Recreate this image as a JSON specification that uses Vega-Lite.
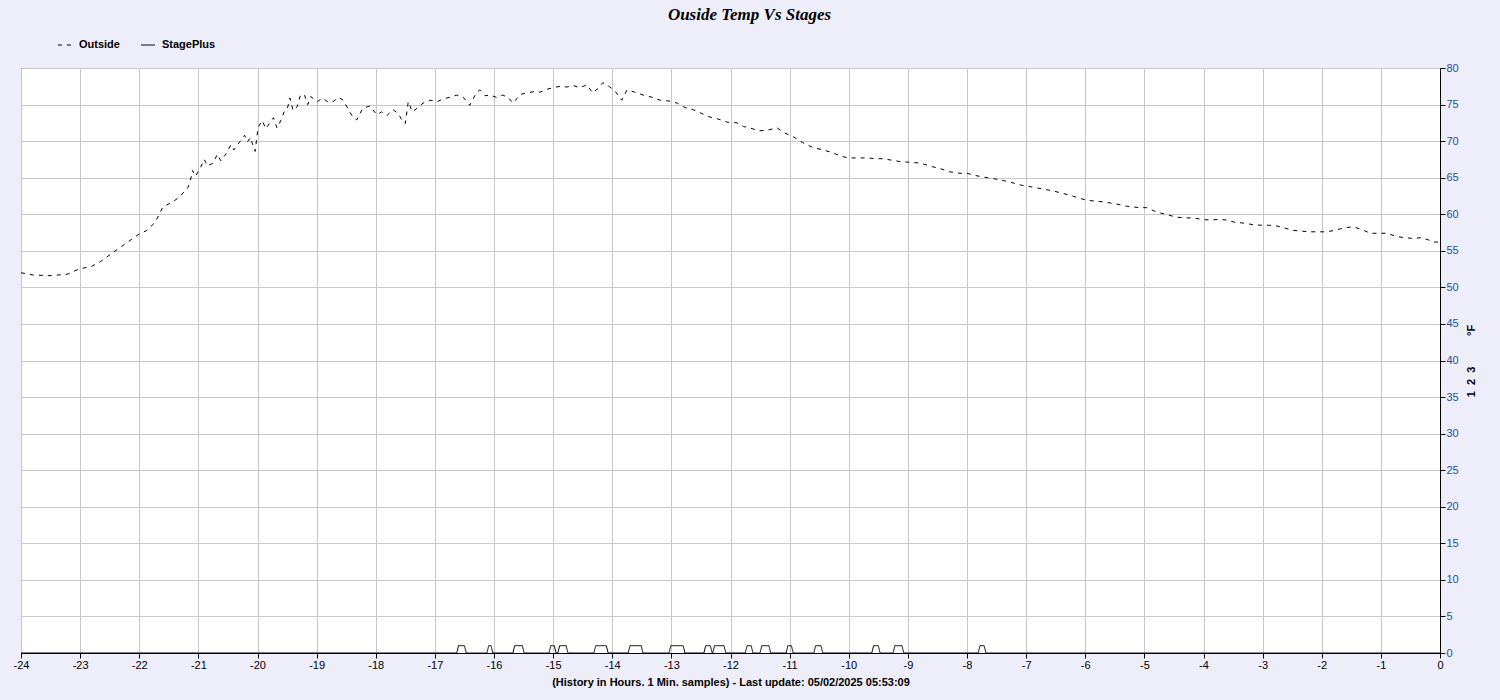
{
  "$schema": "https://vega.github.io/schema/vega-lite/v6.json",
  "width": 1419,
  "height": 585,
  "autosize": {"type": "none"},
  "padding": {"left": 21, "top": 68, "right": 60, "bottom": 47},
  "background": "#eeeefb",
  "title": {
    "text": "Ouside Temp Vs Stages",
    "anchor": "middle",
    "frame": "group",
    "dx": 19,
    "offset": 5,
    "baseline": "middle",
    "font": "Liberation Serif",
    "fontSize": 17,
    "fontWeight": "bold",
    "fontStyle": "italic",
    "color": "#000000"
  },
  "config": {
    "font": "Liberation Sans",
    "view": {"stroke": "#000000", "strokeWidth": 1, "fill": "#ffffff"},
    "axis": {
      "gridColor": "#c8c8c8",
      "gridWidth": 1,
      "domainColor": "#000000",
      "tickColor": "#000000",
      "labelFont": "Liberation Sans",
      "labelFontSize": 11,
      "titleFont": "Liberation Sans",
      "titleFontSize": 11,
      "titleFontWeight": "bold",
      "titleColor": "#000000"
    },
    "legend": {
      "labelFont": "Liberation Sans",
      "labelFontSize": 11,
      "labelFontWeight": "bold",
      "labelColor": "#000000"
    }
  },
  "datasets": {
    "outside": [
      {"h":-24.00,"v":52.0,"s":"Outside"},{"h":-23.80,"v":51.7,"s":"Outside"},{"h":-23.51,"v":51.6,"s":"Outside"},{"h":-23.22,"v":51.8,"s":"Outside"},
      {"h":-23.02,"v":52.5,"s":"Outside"},{"h":-22.80,"v":52.9,"s":"Outside"},{"h":-22.66,"v":53.5,"s":"Outside"},{"h":-22.44,"v":54.8,"s":"Outside"},
      {"h":-22.21,"v":56.1,"s":"Outside"},{"h":-22.02,"v":57.2,"s":"Outside"},{"h":-21.87,"v":57.8,"s":"Outside"},{"h":-21.73,"v":58.9,"s":"Outside"},
      {"h":-21.60,"v":61.0,"s":"Outside"},{"h":-21.43,"v":61.7,"s":"Outside"},{"h":-21.30,"v":62.5,"s":"Outside"},{"h":-21.26,"v":62.9,"s":"Outside"},
      {"h":-21.18,"v":63.6,"s":"Outside"},{"h":-21.14,"v":64.4,"s":"Outside"},{"h":-21.10,"v":66.0,"s":"Outside"},{"h":-21.05,"v":65.2,"s":"Outside"},
      {"h":-20.97,"v":66.3,"s":"Outside"},{"h":-20.90,"v":67.5,"s":"Outside"},{"h":-20.85,"v":66.6,"s":"Outside"},{"h":-20.75,"v":67.0,"s":"Outside"},
      {"h":-20.68,"v":68.2,"s":"Outside"},{"h":-20.62,"v":67.3,"s":"Outside"},{"h":-20.52,"v":68.4,"s":"Outside"},{"h":-20.45,"v":69.5,"s":"Outside"},
      {"h":-20.40,"v":68.8,"s":"Outside"},{"h":-20.30,"v":69.9,"s":"Outside"},{"h":-20.22,"v":70.8,"s":"Outside"},{"h":-20.17,"v":69.9,"s":"Outside"},
      {"h":-20.12,"v":70.5,"s":"Outside"},{"h":-20.08,"v":69.5,"s":"Outside"},{"h":-20.04,"v":68.6,"s":"Outside"},{"h":-19.99,"v":71.9,"s":"Outside"},
      {"h":-19.92,"v":72.8,"s":"Outside"},{"h":-19.86,"v":71.7,"s":"Outside"},{"h":-19.79,"v":72.5,"s":"Outside"},{"h":-19.73,"v":73.2,"s":"Outside"},
      {"h":-19.67,"v":71.8,"s":"Outside"},{"h":-19.60,"v":72.9,"s":"Outside"},{"h":-19.55,"v":74.0,"s":"Outside"},{"h":-19.50,"v":74.3,"s":"Outside"},
      {"h":-19.45,"v":75.9,"s":"Outside"},{"h":-19.40,"v":74.2,"s":"Outside"},{"h":-19.33,"v":74.7,"s":"Outside"},{"h":-19.27,"v":76.4,"s":"Outside"},
      {"h":-19.20,"v":76.2,"s":"Outside"},{"h":-19.15,"v":75.0,"s":"Outside"},{"h":-19.10,"v":76.1,"s":"Outside"},{"h":-18.99,"v":75.4,"s":"Outside"},
      {"h":-18.90,"v":75.9,"s":"Outside"},{"h":-18.80,"v":75.3,"s":"Outside"},{"h":-18.72,"v":75.4,"s":"Outside"},{"h":-18.63,"v":76.0,"s":"Outside"},
      {"h":-18.55,"v":75.6,"s":"Outside"},{"h":-18.44,"v":74.0,"s":"Outside"},{"h":-18.38,"v":73.2,"s":"Outside"},{"h":-18.32,"v":72.9,"s":"Outside"},
      {"h":-18.22,"v":74.5,"s":"Outside"},{"h":-18.10,"v":74.8,"s":"Outside"},{"h":-17.98,"v":73.6,"s":"Outside"},{"h":-17.90,"v":74.0,"s":"Outside"},
      {"h":-17.81,"v":73.5,"s":"Outside"},{"h":-17.71,"v":74.3,"s":"Outside"},{"h":-17.62,"v":73.8,"s":"Outside"},{"h":-17.54,"v":72.6,"s":"Outside"},
      {"h":-17.50,"v":72.4,"s":"Outside"},{"h":-17.45,"v":75.4,"s":"Outside"},{"h":-17.38,"v":74.0,"s":"Outside"},{"h":-17.30,"v":74.5,"s":"Outside"},
      {"h":-17.20,"v":75.2,"s":"Outside"},{"h":-17.08,"v":75.6,"s":"Outside"},{"h":-16.96,"v":75.4,"s":"Outside"},{"h":-16.85,"v":75.8,"s":"Outside"},
      {"h":-16.74,"v":76.0,"s":"Outside"},{"h":-16.63,"v":76.3,"s":"Outside"},{"h":-16.52,"v":76.0,"s":"Outside"},{"h":-16.41,"v":74.9,"s":"Outside"},
      {"h":-16.30,"v":76.6,"s":"Outside"},{"h":-16.24,"v":77.0,"s":"Outside"},{"h":-16.15,"v":76.2,"s":"Outside"},{"h":-16.07,"v":76.3,"s":"Outside"},
      {"h":-15.96,"v":76.0,"s":"Outside"},{"h":-15.85,"v":76.3,"s":"Outside"},{"h":-15.75,"v":75.9,"s":"Outside"},{"h":-15.68,"v":75.2,"s":"Outside"},
      {"h":-15.55,"v":76.4,"s":"Outside"},{"h":-15.44,"v":76.6,"s":"Outside"},{"h":-15.30,"v":76.8,"s":"Outside"},{"h":-15.22,"v":76.7,"s":"Outside"},
      {"h":-15.10,"v":77.1,"s":"Outside"},{"h":-15.00,"v":77.3,"s":"Outside"},{"h":-14.88,"v":77.5,"s":"Outside"},{"h":-14.77,"v":77.4,"s":"Outside"},
      {"h":-14.66,"v":77.6,"s":"Outside"},{"h":-14.55,"v":77.3,"s":"Outside"},{"h":-14.43,"v":77.7,"s":"Outside"},{"h":-14.33,"v":76.6,"s":"Outside"},
      {"h":-14.24,"v":77.2,"s":"Outside"},{"h":-14.16,"v":78.0,"s":"Outside"},{"h":-14.04,"v":77.4,"s":"Outside"},{"h":-13.95,"v":76.8,"s":"Outside"},
      {"h":-13.84,"v":75.6,"s":"Outside"},{"h":-13.75,"v":77.0,"s":"Outside"},{"h":-13.62,"v":76.7,"s":"Outside"},{"h":-13.48,"v":76.3,"s":"Outside"},
      {"h":-13.33,"v":76.0,"s":"Outside"},{"h":-13.19,"v":75.6,"s":"Outside"},{"h":-13.05,"v":75.5,"s":"Outside"},{"h":-12.90,"v":75.2,"s":"Outside"},
      {"h":-12.77,"v":74.6,"s":"Outside"},{"h":-12.63,"v":74.3,"s":"Outside"},{"h":-12.49,"v":73.8,"s":"Outside"},{"h":-12.35,"v":73.3,"s":"Outside"},
      {"h":-12.20,"v":73.0,"s":"Outside"},{"h":-12.06,"v":72.6,"s":"Outside"},{"h":-11.89,"v":72.5,"s":"Outside"},{"h":-11.78,"v":72.0,"s":"Outside"},
      {"h":-11.67,"v":71.8,"s":"Outside"},{"h":-11.52,"v":71.4,"s":"Outside"},{"h":-11.38,"v":71.5,"s":"Outside"},{"h":-11.21,"v":71.8,"s":"Outside"},
      {"h":-11.08,"v":71.1,"s":"Outside"},{"h":-10.94,"v":70.6,"s":"Outside"},{"h":-10.78,"v":69.8,"s":"Outside"},{"h":-10.60,"v":69.1,"s":"Outside"},
      {"h":-10.43,"v":68.8,"s":"Outside"},{"h":-10.27,"v":68.4,"s":"Outside"},{"h":-10.12,"v":67.9,"s":"Outside"},{"h":-9.98,"v":67.7,"s":"Outside"},
      {"h":-9.84,"v":67.7,"s":"Outside"},{"h":-9.69,"v":67.7,"s":"Outside"},{"h":-9.55,"v":67.6,"s":"Outside"},{"h":-9.42,"v":67.6,"s":"Outside"},
      {"h":-9.28,"v":67.4,"s":"Outside"},{"h":-9.13,"v":67.2,"s":"Outside"},{"h":-8.95,"v":67.1,"s":"Outside"},{"h":-8.80,"v":67.0,"s":"Outside"},
      {"h":-8.58,"v":66.5,"s":"Outside"},{"h":-8.44,"v":66.2,"s":"Outside"},{"h":-8.29,"v":65.8,"s":"Outside"},{"h":-8.12,"v":65.6,"s":"Outside"},
      {"h":-8.00,"v":65.6,"s":"Outside"},{"h":-7.86,"v":65.3,"s":"Outside"},{"h":-7.73,"v":65.1,"s":"Outside"},{"h":-7.58,"v":64.9,"s":"Outside"},
      {"h":-7.44,"v":64.7,"s":"Outside"},{"h":-7.27,"v":64.4,"s":"Outside"},{"h":-7.10,"v":64.0,"s":"Outside"},{"h":-6.95,"v":63.8,"s":"Outside"},
      {"h":-6.82,"v":63.6,"s":"Outside"},{"h":-6.68,"v":63.4,"s":"Outside"},{"h":-6.55,"v":63.2,"s":"Outside"},{"h":-6.40,"v":62.9,"s":"Outside"},
      {"h":-6.26,"v":62.6,"s":"Outside"},{"h":-6.10,"v":62.2,"s":"Outside"},{"h":-5.97,"v":61.9,"s":"Outside"},{"h":-5.83,"v":61.8,"s":"Outside"},
      {"h":-5.70,"v":61.7,"s":"Outside"},{"h":-5.55,"v":61.5,"s":"Outside"},{"h":-5.41,"v":61.3,"s":"Outside"},{"h":-5.30,"v":61.1,"s":"Outside"},
      {"h":-5.19,"v":61.0,"s":"Outside"},{"h":-5.08,"v":60.9,"s":"Outside"},{"h":-4.96,"v":60.9,"s":"Outside"},{"h":-4.85,"v":60.5,"s":"Outside"},
      {"h":-4.74,"v":60.2,"s":"Outside"},{"h":-4.60,"v":59.9,"s":"Outside"},{"h":-4.45,"v":59.6,"s":"Outside"},{"h":-4.30,"v":59.5,"s":"Outside"},
      {"h":-4.18,"v":59.5,"s":"Outside"},{"h":-4.03,"v":59.3,"s":"Outside"},{"h":-3.89,"v":59.2,"s":"Outside"},{"h":-3.75,"v":59.3,"s":"Outside"},
      {"h":-3.60,"v":59.2,"s":"Outside"},{"h":-3.47,"v":58.9,"s":"Outside"},{"h":-3.33,"v":58.8,"s":"Outside"},{"h":-3.18,"v":58.6,"s":"Outside"},
      {"h":-3.04,"v":58.5,"s":"Outside"},{"h":-2.90,"v":58.5,"s":"Outside"},{"h":-2.76,"v":58.4,"s":"Outside"},{"h":-2.62,"v":58.1,"s":"Outside"},
      {"h":-2.49,"v":57.8,"s":"Outside"},{"h":-2.35,"v":57.7,"s":"Outside"},{"h":-2.20,"v":57.6,"s":"Outside"},{"h":-2.05,"v":57.6,"s":"Outside"},
      {"h":-1.91,"v":57.6,"s":"Outside"},{"h":-1.78,"v":57.8,"s":"Outside"},{"h":-1.64,"v":58.1,"s":"Outside"},{"h":-1.47,"v":58.3,"s":"Outside"},
      {"h":-1.32,"v":57.9,"s":"Outside"},{"h":-1.18,"v":57.4,"s":"Outside"},{"h":-1.04,"v":57.4,"s":"Outside"},{"h":-0.90,"v":57.4,"s":"Outside"},
      {"h":-0.75,"v":57.0,"s":"Outside"},{"h":-0.61,"v":56.8,"s":"Outside"},{"h":-0.46,"v":56.7,"s":"Outside"},{"h":-0.32,"v":56.8,"s":"Outside"},
      {"h":-0.20,"v":56.5,"s":"Outside"},{"h":-0.10,"v":56.2,"s":"Outside"},{"h":0.00,"v":56.2,"s":"Outside"}
    ],
    "stage": [
      {"h":-24.00,"v":0,"s":"StagePlus"},
      {"h":-16.63,"v":0,"s":"StagePlus"},{"h":-16.60,"v":1,"s":"StagePlus"},{"h":-16.50,"v":1,"s":"StagePlus"},{"h":-16.47,"v":0,"s":"StagePlus"},
      {"h":-16.12,"v":0,"s":"StagePlus"},{"h":-16.09,"v":1,"s":"StagePlus"},{"h":-16.05,"v":1,"s":"StagePlus"},{"h":-16.02,"v":0,"s":"StagePlus"},
      {"h":-15.68,"v":0,"s":"StagePlus"},{"h":-15.65,"v":1,"s":"StagePlus"},{"h":-15.52,"v":1,"s":"StagePlus"},{"h":-15.49,"v":0,"s":"StagePlus"},
      {"h":-15.07,"v":0,"s":"StagePlus"},{"h":-15.04,"v":1,"s":"StagePlus"},{"h":-14.98,"v":1,"s":"StagePlus"},{"h":-14.95,"v":0,"s":"StagePlus"},
      {"h":-14.92,"v":0,"s":"StagePlus"},{"h":-14.89,"v":1,"s":"StagePlus"},{"h":-14.78,"v":1,"s":"StagePlus"},{"h":-14.75,"v":0,"s":"StagePlus"},
      {"h":-14.31,"v":0,"s":"StagePlus"},{"h":-14.28,"v":1,"s":"StagePlus"},{"h":-14.10,"v":1,"s":"StagePlus"},{"h":-14.07,"v":0,"s":"StagePlus"},
      {"h":-13.73,"v":0,"s":"StagePlus"},{"h":-13.70,"v":1,"s":"StagePlus"},{"h":-13.51,"v":1,"s":"StagePlus"},{"h":-13.48,"v":0,"s":"StagePlus"},
      {"h":-13.04,"v":0,"s":"StagePlus"},{"h":-13.01,"v":1,"s":"StagePlus"},{"h":-12.80,"v":1,"s":"StagePlus"},{"h":-12.77,"v":0,"s":"StagePlus"},
      {"h":-12.45,"v":0,"s":"StagePlus"},{"h":-12.42,"v":1,"s":"StagePlus"},{"h":-12.34,"v":1,"s":"StagePlus"},{"h":-12.31,"v":0,"s":"StagePlus"},
      {"h":-12.30,"v":0,"s":"StagePlus"},{"h":-12.27,"v":1,"s":"StagePlus"},{"h":-12.11,"v":1,"s":"StagePlus"},{"h":-12.08,"v":0,"s":"StagePlus"},
      {"h":-11.75,"v":0,"s":"StagePlus"},{"h":-11.72,"v":1,"s":"StagePlus"},{"h":-11.65,"v":1,"s":"StagePlus"},{"h":-11.62,"v":0,"s":"StagePlus"},
      {"h":-11.50,"v":0,"s":"StagePlus"},{"h":-11.47,"v":1,"s":"StagePlus"},{"h":-11.35,"v":1,"s":"StagePlus"},{"h":-11.32,"v":0,"s":"StagePlus"},
      {"h":-11.06,"v":0,"s":"StagePlus"},{"h":-11.03,"v":1,"s":"StagePlus"},{"h":-10.97,"v":1,"s":"StagePlus"},{"h":-10.94,"v":0,"s":"StagePlus"},
      {"h":-10.59,"v":0,"s":"StagePlus"},{"h":-10.56,"v":1,"s":"StagePlus"},{"h":-10.47,"v":1,"s":"StagePlus"},{"h":-10.44,"v":0,"s":"StagePlus"},
      {"h":-9.61,"v":0,"s":"StagePlus"},{"h":-9.58,"v":1,"s":"StagePlus"},{"h":-9.50,"v":1,"s":"StagePlus"},{"h":-9.47,"v":0,"s":"StagePlus"},
      {"h":-9.25,"v":0,"s":"StagePlus"},{"h":-9.22,"v":1,"s":"StagePlus"},{"h":-9.10,"v":1,"s":"StagePlus"},{"h":-9.07,"v":0,"s":"StagePlus"},
      {"h":-7.81,"v":0,"s":"StagePlus"},{"h":-7.78,"v":1,"s":"StagePlus"},{"h":-7.71,"v":1,"s":"StagePlus"},{"h":-7.68,"v":0,"s":"StagePlus"},
      {"h":0.00,"v":0,"s":"StagePlus"}
    ]
  },
  "encoding": {
    "x": {
      "field": "h",
      "type": "quantitative",
      "scale": {"domain": [-24, 0], "nice": false, "zero": false},
      "axis": {
        "values": [-24,-23,-22,-21,-20,-19,-18,-17,-16,-15,-14,-13,-12,-11,-10,-9,-8,-7,-6,-5,-4,-3,-2,-1,0],
        "labelExpr": "'' + datum.value",
        "labelFlush": false,
        "labelOverlap": false,
        "tickSize": 5,
        "labelPadding": 1,
        "labelColor": "#000000",
        "title": "(History in Hours. 1 Min. samples) - Last update: 05/02/2025 05:53:09",
        "titlePadding": 6
      }
    },
    "y": {
      "field": "v",
      "type": "quantitative",
      "scale": {"domain": [0, 80], "nice": false},
      "axis": {
        "orient": "right",
        "values": [0,5,10,15,20,25,30,35,40,45,50,55,60,65,70,75,80],
        "labelFlush": false,
        "labelOverlap": false,
        "tickSize": 5,
        "labelPadding": 1,
        "labelColor": "#24509a",
        "title": "1\u00a0\u00a02\u00a0\u00a03\u00a0\u00a0\u00a0\u00a0\u00a0\u00a0\u00a0\u00a0\u00a0\u00a0°F",
        "titleAngle": 270,
        "titlePadding": 18
      }
    },
    "color": {
      "field": "s",
      "type": "nominal",
      "scale": {"domain": ["Outside", "StagePlus"], "range": ["#000000", "#000000"]},
      "legend": {
        "title": null,
        "orient": "none",
        "legendX": 36,
        "legendY": -31,
        "direction": "horizontal",
        "symbolType": "stroke",
        "symbolSize": 200,
        "symbolStrokeWidth": 1,
        "labelOffset": 6,
        "columnPadding": 18
      }
    },
    "strokeDash": {
      "field": "s",
      "type": "nominal",
      "scale": {"domain": ["Outside", "StagePlus"], "range": [[4, 5], [1, 0]]},
      "legend": {
        "title": null,
        "orient": "none",
        "legendX": 36,
        "legendY": -31,
        "direction": "horizontal",
        "symbolType": "stroke",
        "symbolSize": 200,
        "symbolStrokeWidth": 1,
        "labelOffset": 6,
        "columnPadding": 18
      }
    }
  },
  "layer": [
    {"data": {"name": "outside"}, "mark": {"type": "line", "strokeWidth": 1}},
    {"data": {"name": "stage"}, "mark": {"type": "line", "strokeWidth": 1}}
  ]
}
